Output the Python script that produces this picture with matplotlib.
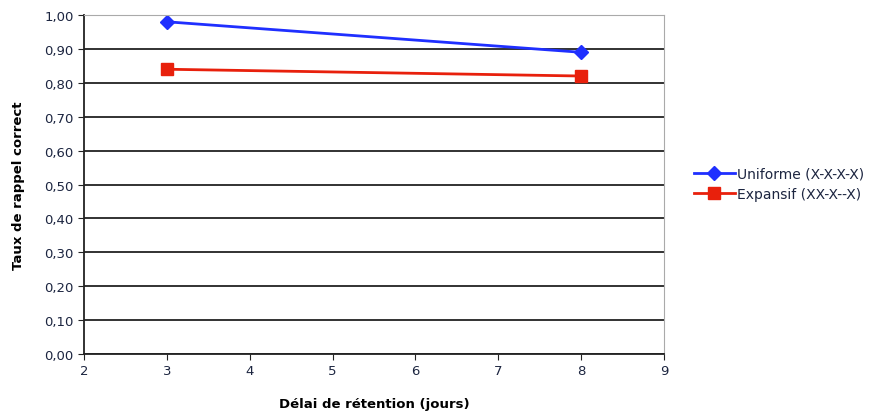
import matplotlib.pyplot as plt
from matplotlib.ticker import FuncFormatter

delais = [3, 8]
uniforme = [0.98, 0.89]
expansif = [0.84, 0.82]

fig = plt.figure(figsize=(8.91, 4.14), dpi=100)
ax = fig.add_axes([84 / 891, 1 - 355 / 414, 580 / 891, 339 / 414])

ax.plot(delais, uniforme, color='#1f2fff', lw=2, marker='D', ms=7,
        label='Uniforme (X-X-X-X)')
ax.plot(delais, expansif, color='#e8200c', lw=2, marker='s', ms=9,
        label='Expansif (XX-X--X)')

ax.set_xlim(2, 9)
ax.set_ylim(0, 1)
ax.set_yticks([i / 10 for i in range(11)])
ax.set_xticks(range(2, 10))
ax.yaxis.set_major_formatter(FuncFormatter(lambda v, p: f'{v:.2f}'.replace('.', ',')))
ax.grid(axis='y', color='#222222', lw=1.3)
ax.set_axisbelow(True)

for s in ['top', 'right']:
    ax.spines[s].set_color('#aaaaaa')
for s in ['left', 'bottom']:
    ax.spines[s].set_color('#222222')
    ax.spines[s].set_linewidth(1.3)
ax.tick_params(colors='#222222', labelcolor='#1c2540', labelsize=9.5, length=4)

ax.set_xlabel('Délai de rétention (jours)', fontsize=9.5, fontweight='bold', labelpad=14)
ax.set_ylabel('Taux de rappel correct', fontsize=9.5, fontweight='bold', labelpad=14)

fig.legend(loc='center left', bbox_to_anchor=(688 / 891, 1 - 185 / 414),
           frameon=False, fontsize=10, handlelength=3.0, handletextpad=0.1,
           borderaxespad=0, labelspacing=0.45, labelcolor='#1c2540')

fig.savefig('out.png', dpi=100)
